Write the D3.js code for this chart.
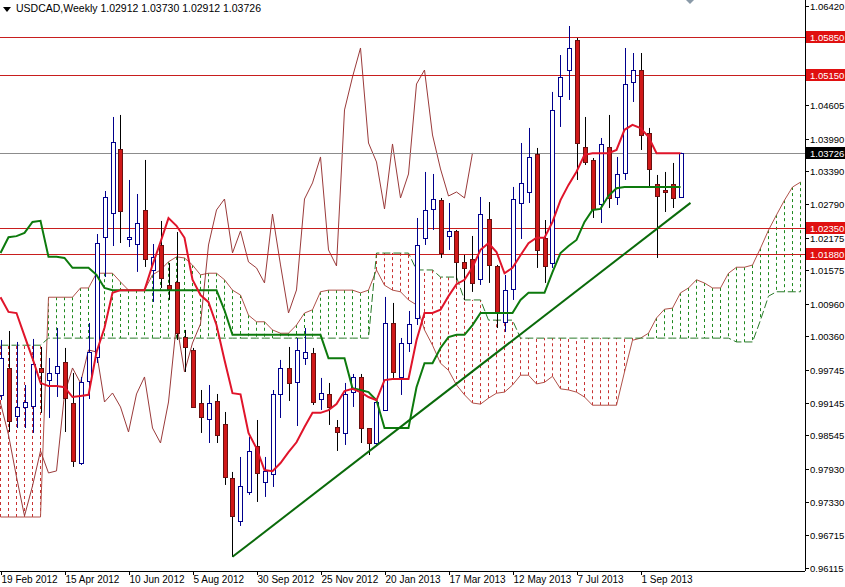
<!DOCTYPE html>
<html><head><meta charset="utf-8">
<script src="https://cdn.jsdelivr.net/npm/d3@7"></script>
<style>body{margin:0;background:#fff}svg{display:block}text{font-family:"Liberation Sans",Arial,sans-serif}</style>
</head><body><svg id="c" width="845" height="587"></svg>
<script>
// Weekly candles, index 0 = week of 19 Feb 2012
const opens=[0.99288,0.99783,0.98903,0.99068,0.99086,0.99783,0.99563,0.99691,0.99893,0.99141,0.98041,0.99545,0.99985,1.02185,1.02625,1.03799,1.02148,1.02056,1.02680,1.01580,1.02038,1.01305,1.01360,1.00351,1.00113,0.99141,0.98848,0.99178,0.98756,0.97766,0.96978,0.97510,0.98352,0.97693,0.97840,0.99306,0.99783,0.99526,0.99966,1.00058,0.99214,0.99306,0.98701,0.98591,0.99343,0.99618,0.98682,0.98407,0.99013,1.00608,0.99618,1.00241,1.00700,1.02166,1.02698,1.02863,1.02203,1.02294,1.01727,1.01782,1.01415,1.02515,1.01653,1.00626,1.01232,1.02808,1.03010,1.03707,1.02166,1.01708,1.04770,1.05246,1.05796,1.03835,1.03597,1.02789,1.03835,1.02918,1.03358,1.05026,1.05246,1.04092,1.03157,1.03047,1.03157,1.02912];
const highs=[1.00296,1.00461,1.00260,0.99471,1.00315,1.00168,0.99966,1.00516,1.00150,0.99691,0.99618,1.00608,1.02239,1.03028,1.04385,1.04422,1.03230,1.02973,1.03597,1.02056,1.02478,1.01708,1.02276,1.00480,1.00150,0.99379,0.99471,0.99306,0.98976,0.97876,0.98151,0.98518,0.98829,0.98151,0.99379,0.99930,1.00168,1.00333,1.00516,1.00150,0.99600,0.99508,0.98829,0.99508,0.99673,0.99673,0.98682,0.99196,1.01085,1.00975,1.00333,1.00828,1.02533,1.03377,1.03340,1.02900,1.02808,1.02313,1.01855,1.02203,1.02918,1.02826,1.01672,1.01488,1.03102,1.03908,1.04184,1.03817,1.02496,1.04844,1.05521,1.06053,1.05833,1.04385,1.03633,1.04000,1.04422,1.03652,1.05650,1.05558,1.05558,1.04184,1.03322,1.03377,1.03542,1.03730];
const lows=[0.99196,0.98609,0.98682,0.98682,0.98591,0.98958,0.98866,0.99251,0.98609,0.97968,0.98004,0.99214,0.99875,1.01451,1.02019,1.02074,1.02001,1.01544,1.01635,1.00993,1.01250,1.01030,1.00296,0.99710,0.99049,0.98591,0.98407,0.98407,0.97638,0.96318,0.96886,0.97455,0.97326,0.97418,0.97601,0.98866,0.99178,0.98719,0.99838,0.99104,0.99013,0.98738,0.98261,0.98371,0.99068,0.98407,0.98187,0.98371,0.99013,0.99600,0.99288,1.00076,1.00571,1.02038,1.02313,1.01800,1.01947,1.01397,1.01030,1.01177,1.01305,1.01342,1.00516,1.00443,1.01030,1.02148,1.02808,1.01617,1.01342,1.01617,1.04202,1.04697,1.03230,1.03505,1.02533,1.02441,1.02716,1.02771,1.03230,1.04660,1.03780,1.03102,1.01800,1.02643,1.02716,1.02912];
const closes=[0.99966,0.98811,0.99068,0.99159,0.99856,0.99710,0.99691,0.99820,0.99233,0.98078,0.99526,1.00076,1.02074,1.02918,1.03927,1.02661,1.02185,1.02441,1.01782,1.01818,1.01433,1.01232,1.00425,1.00168,0.99068,0.98885,0.99141,0.98554,0.97785,0.97070,0.97620,0.98261,0.97858,0.97895,0.99306,0.99783,0.99508,1.00113,1.00076,0.99159,0.99324,0.99068,0.98609,0.99306,0.99618,0.98682,0.98407,0.99159,1.00608,0.99710,1.00241,1.00590,1.02038,1.02680,1.02881,1.01892,1.02294,1.01727,1.01617,1.01342,1.02606,1.01672,1.00791,1.01213,1.02881,1.03176,1.03652,1.01947,1.01653,1.04514,1.05118,1.05650,1.03908,1.03560,1.02698,1.03890,1.02900,1.03340,1.04990,1.05246,1.04055,1.03432,1.02936,1.03010,1.02900,1.03726];
const tenkan=[1.0108,1.0081,1.0079,1.0037,0.9996,0.9951,0.9945,0.9945,0.9943,0.9925,0.9927,0.9929,1.0007,1.0052,1.0116,1.0121,1.0121,1.0121,1.0121,1.0167,1.0209,1.0253,1.0239,1.0217,1.0140,1.0112,1.0099,1.0057,0.9993,0.9932,0.9930,0.9859,0.9831,0.9791,0.9789,0.9804,0.9824,0.9842,0.9870,0.9896,0.9896,0.9901,0.9912,0.9936,0.9940,0.9934,0.9925,0.9919,0.9956,0.9958,0.9958,0.9958,1.0029,1.0079,1.0079,1.0085,1.0110,1.0132,1.0140,1.0163,1.0195,1.0207,1.0191,1.0152,1.0162,1.0185,1.0207,1.0217,1.0217,1.0246,1.0286,1.0314,1.0338,1.0369,1.0372,1.0372,1.0372,1.0378,1.0415,1.0424,1.0418,1.0402,1.0372,1.0372,1.0372,1.0372];
const kijun=[1.0189,1.0218,1.0220,1.0226,1.0246,1.0248,1.0182,1.0182,1.0180,1.0162,1.0162,1.0162,1.0149,1.0125,1.0121,1.0121,1.0121,1.0121,1.0121,1.0121,1.0121,1.0121,1.0121,1.0121,1.0121,1.0121,1.0121,1.0121,1.0084,1.0039,1.0039,1.0039,1.0039,1.0039,1.0039,1.0039,1.0039,1.0039,1.0039,1.0039,1.0039,0.9996,0.9996,0.9996,0.9941,0.9938,0.9934,0.9919,0.9868,0.9868,0.9868,0.9868,0.9943,0.9987,0.9987,1.0015,1.0035,1.0039,1.0039,1.0057,1.0079,1.0079,1.0079,1.0079,1.0079,1.0103,1.0116,1.0116,1.0116,1.0154,1.0189,1.0202,1.0213,1.0246,1.0268,1.0270,1.0294,1.0308,1.0310,1.0310,1.0310,1.0310,1.0310,1.0310,1.0310,1.0310];
const spanA=[0.9705,0.9705,0.9705,0.9705,0.9705,0.9705,1.0108,1.0108,1.0108,1.0108,1.0125,1.0125,1.0152,1.0152,1.0152,1.0136,1.0121,1.0121,1.0121,1.0149,1.0158,1.0173,1.0182,1.0180,1.0167,1.0149,1.0152,1.0152,1.0140,1.0121,1.0112,1.0075,1.0063,1.0063,1.0048,1.0042,1.0042,1.0057,1.0079,1.0085,1.0118,1.0121,1.0121,1.0121,1.0121,1.0116,1.0121,1.0158,1.0130,1.0121,1.0118,1.0103,1.0094,1.0048,1.0020,0.9987,0.9974,0.9947,0.9929,0.9914,0.9912,0.9923,0.9932,0.9934,0.9947,0.9965,0.9965,0.9949,0.9952,0.9963,0.9940,0.9938,0.9934,0.9925,0.9910,0.9910,0.9910,0.9910,0.9971,1.0029,1.0033,1.0042,1.0070,1.0086,1.0088,1.0116,1.0125,1.0140,1.0134,1.0125,1.0125,1.0152,1.0163,1.0163,1.0167,1.0198,1.0231,1.0259,1.0286,1.0310,1.0319];
const spanB=[1.0020,1.0020,1.0020,1.0020,1.0020,1.0020,1.0033,1.0033,1.0033,1.0033,1.0033,1.0033,1.0033,1.0033,1.0033,1.0033,1.0033,1.0033,1.0033,1.0033,1.0033,1.0033,1.0033,1.0033,1.0033,1.0033,1.0033,1.0033,1.0033,1.0033,1.0033,1.0033,1.0033,1.0033,1.0033,1.0033,1.0033,1.0033,1.0033,1.0033,1.0033,1.0033,1.0033,1.0033,1.0033,1.0033,1.0033,1.0189,1.0189,1.0189,1.0189,1.0189,1.0158,1.0158,1.0158,1.0145,1.0145,1.0145,1.0103,1.0103,1.0103,1.0066,1.0066,1.0066,1.0066,1.0033,1.0033,1.0033,1.0033,1.0033,1.0033,1.0033,1.0033,1.0033,1.0033,1.0033,1.0033,1.0033,1.0033,1.0033,1.0033,1.0033,1.0033,1.0033,1.0033,1.0033,1.0033,1.0033,1.0033,1.0033,1.0033,1.0033,1.0026,1.0026,1.0026,1.0066,1.0110,1.0118,1.0118,1.0118,1.0118];
const chikouShift=26;
const trendline=[{i:29,p:0.9632},{i:86.25,p:1.0281}];
const redLevels=[1.05850,1.05150,1.02350,1.01880];
const lastPrice=1.03726;
const priceTicks=[1.06420,1.04605,1.03990,1.03390,1.02790,1.02175,1.01575,1.00960,1.00360,0.99745,0.99145,0.98545,0.97930,0.97330,0.96715,0.96115];
const dateTicks=[[0,"19 Feb 2012"],[8,"15 Apr 2012"],[16,"10 Jun 2012"],[24,"5 Aug 2012"],[32,"30 Sep 2012"],[40,"25 Nov 2012"],[48,"20 Jan 2013"],[56,"17 Mar 2013"],[64,"12 May 2013"],[72,"7 Jul 2013"],[80,"1 Sep 2013"]];
const title="USDCAD,Weekly  1.02912 1.03730 1.02912 1.03726";

const svg=d3.select("#c");
const W=805,H=571;
const x=d3.scaleLinear().domain([0,100]).range([0.5,800.5]);
const y=d3.scaleLinear().domain([0.96115,1.06420]).range([568,6]);
svg.append("clipPath").attr("id","pc").append("rect").attr("x",0).attr("y",0).attr("width",W).attr("height",H);
const g=svg.append("g").attr("clip-path","url(#pc)");

spanA.forEach((a,i)=>{
  const b=spanB[i];
  g.append("line").attr("x1",x(i)).attr("x2",x(i)).attr("y1",y(a)).attr("y2",y(b))
   .attr("stroke",a>=b?"#1f8a1f":"#c83232").attr("stroke-width",1).attr("stroke-dasharray","3,3");
});
const ln=d=>d3.line().x((v,i)=>x(i)).y(v=>y(v))(d);
g.append("path").attr("d",ln(spanA)).attr("fill","none").attr("stroke","#b0524a").attr("stroke-width",1);
g.append("path").attr("d",ln(spanB)).attr("fill","none").attr("stroke","#2a7a2a").attr("stroke-width",1).attr("stroke-dasharray","8,3");
g.append("path").attr("d",d3.line().x((v,i)=>x(i-chikouShift)).y(v=>y(v))(closes))
 .attr("fill","none").attr("stroke","#9a3a3a").attr("stroke-width",1);
redLevels.forEach(p=>g.append("line").attr("x1",0).attr("x2",W).attr("y1",Math.round(y(p))+0.5).attr("y2",Math.round(y(p))+0.5).attr("stroke","#c81e1e"));
g.append("line").attr("x1",0).attr("x2",W).attr("y1",Math.round(y(lastPrice))+0.5).attr("y2",Math.round(y(lastPrice))+0.5).attr("stroke","#8c8c8c");
opens.forEach((o,i)=>{
  const c=closes[i],bull=c>=o,cx=Math.round(x(i))+0.5;
  g.append("line").attr("x1",cx).attr("x2",cx).attr("y1",y(highs[i])).attr("y2",y(lows[i])).attr("stroke",bull?"#00008c":"#000");
  const top=Math.round(y(Math.max(o,c)))+0.5,bot=Math.round(y(Math.min(o,c)))+0.5;
  g.append("rect").attr("x",cx-2).attr("y",top).attr("width",4).attr("height",Math.max(1,bot-top))
   .attr("fill",bull?"#fff":"#d01818").attr("stroke",bull?"#00008c":"#6a1010").attr("stroke-width",1);
});
g.append("path").attr("d",ln(kijun)).attr("fill","none").attr("stroke","#0d7a0d").attr("stroke-width",2);
g.append("path").attr("d",ln(tenkan)).attr("fill","none").attr("stroke","#e0142a").attr("stroke-width",2);
g.append("line").attr("x1",x(trendline[0].i)).attr("y1",y(trendline[0].p)).attr("x2",x(trendline[1].i)).attr("y2",y(trendline[1].p)).attr("stroke","#0a6a0a").attr("stroke-width",2);

svg.append("line").attr("x1",W+0.5).attr("x2",W+0.5).attr("y1",0).attr("y2",H).attr("stroke","#000");
svg.append("line").attr("x1",0).attr("x2",W).attr("y1",H+0.5).attr("y2",H+0.5).attr("stroke","#000");
priceTicks.forEach(p=>{
  const yy=Math.round(y(p))+0.5;
  svg.append("line").attr("x1",W).attr("x2",W+4).attr("y1",yy).attr("y2",yy).attr("stroke","#000");
  svg.append("text").attr("x",810).attr("y",yy+3.5).attr("font-size",9.5).attr("fill","#000").text(p.toFixed(5));
});
function box(p,fill){
  const yy=Math.round(y(p));
  svg.append("rect").attr("x",806).attr("y",yy-6).attr("width",39).attr("height",12).attr("fill",fill);
  svg.append("text").attr("x",810).attr("y",yy+3.5).attr("font-size",9.5).attr("fill","#fff").text(p.toFixed(5));
}
redLevels.forEach(p=>box(p,"#e01010"));
box(lastPrice,"#000");
dateTicks.forEach(([i,l])=>{
  const xx=Math.round(x(i))+0.5;
  svg.append("line").attr("x1",xx).attr("x2",xx).attr("y1",H).attr("y2",H+4).attr("stroke","#000");
  svg.append("text").attr("x",xx).attr("y",583).attr("font-size",10).attr("fill","#000").text(l);
});
svg.append("path").attr("d","M3,7 L11,7 L7,12 Z").attr("fill","#000");
svg.append("text").attr("x",16).attr("y",12).attr("font-size",10.5).attr("fill","#000").text(title);
svg.append("path").attr("d","M686,0 L694,0 L690,4 Z").attr("fill","#8a9aa8");
</script></body></html>
